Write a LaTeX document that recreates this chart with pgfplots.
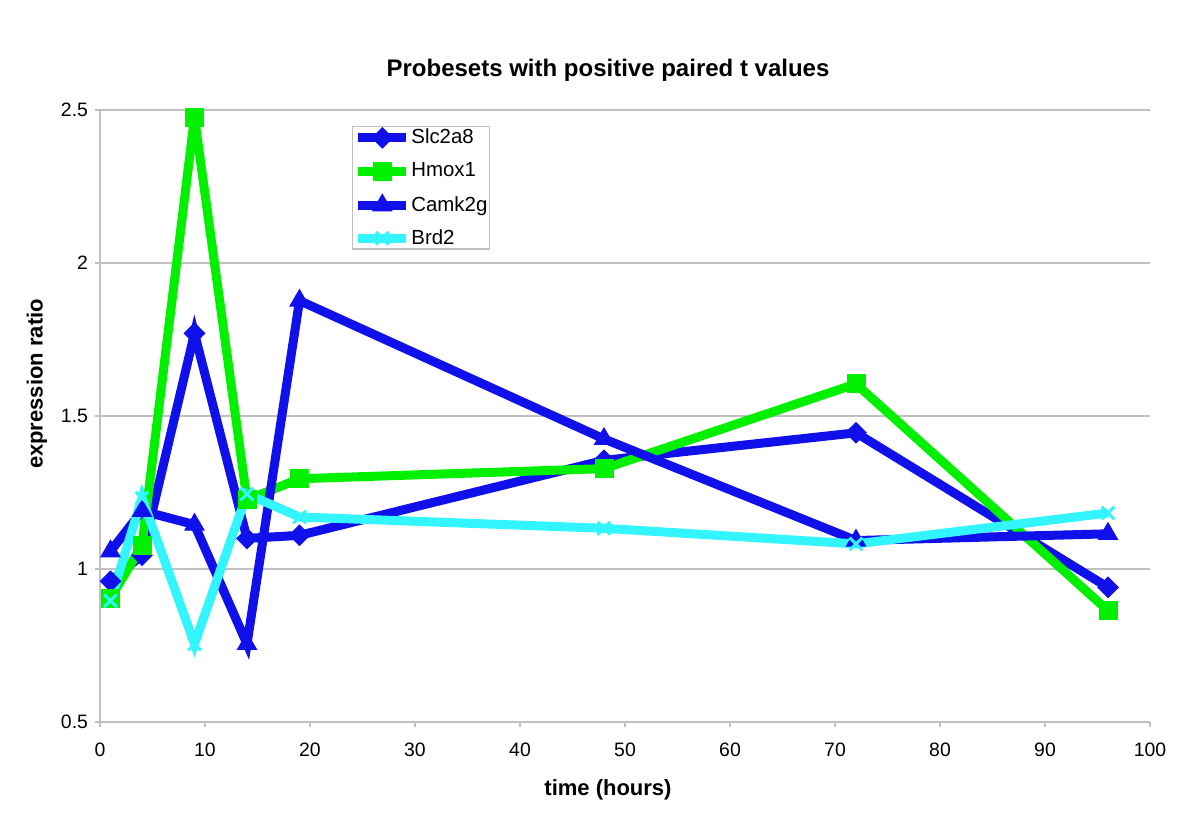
\documentclass[border=0pt]{standalone}
\usepackage{fontspec}
\setmainfont{Liberation Sans}
\usepackage{pgfplots}
\pgfplotsset{compat=1.18}

\definecolor{serblue}{RGB}{16,16,235}
\definecolor{sergreen}{RGB}{0,240,0}
\definecolor{sercyan}{RGB}{51,245,255}
\definecolor{axgray}{RGB}{192,192,192}

\begin{document}
\begin{tikzpicture}
\path[use as bounding box] (-50bp,-51bp) rectangle (550bp,361bp);
\begin{axis}[
  at={(0,0)}, anchor=south west,
  scale only axis, width=525bp, height=306bp,
  xmin=0, xmax=100, ymin=0.5, ymax=2.5,
  xtick={0,10,...,100}, ytick={0.5,1,1.5,2,2.5},
  axis x line*=bottom, axis y line*=left,
  axis line style={-, axgray, line width=0.6pt},
  ymajorgrids, grid style={axgray, line width=0.6pt},
  tick align=outside, major tick length=2.5bp,
  tick style={axgray, line width=0.6pt},
  ticklabel style={font=\fontsize{9.7bp}{11bp}\selectfont},
  xticklabel style={yshift=-4.5bp},
  /pgf/number format/assume math mode=true,
  every axis plot/.append style={line width=4.5bp, line join=miter},
  legend style={at={(rel axis cs:0.24,0.974)}, anchor=north west,
    draw=axgray, line width=0.6pt, inner sep=0.6bp, row sep=7bp,
    nodes={inner sep=0.3bp},
    font=\fontsize{10.2bp}{12bp}\selectfont},
  legend cell align=left,
  legend image code/.code={\draw[mark repeat=2,mark phase=2] plot coordinates {(-1bp,0bp)(11bp,0bp)(23bp,0bp)};},
]
\addplot[serblue, mark=square*, mark size=3.6bp, mark options={rotate=45, line width=0.5pt, fill=serblue}]
  coordinates {(1,0.96) (4,1.045) (9,1.77) (14,1.10) (19,1.11) (48,1.355) (72,1.445) (96,0.94)};
\addlegendentry{Slc2a8}
\addplot[sergreen, mark=square*, mark size=4.5bp, mark options={line width=0.5pt, fill=sergreen}]
  coordinates {(1,0.905) (4,1.077) (9,2.476) (14,1.226) (19,1.295) (48,1.328) (72,1.605) (96,0.864)};
\addlegendentry{Hmox1}
\addplot[serblue, mark=triangle*, mark size=5.5bp, mark options={line width=0.5pt, fill=serblue}]
  coordinates {(1,1.058) (4,1.19) (9,1.145) (14,0.755) (19,1.877) (48,1.425) (72,1.093) (96,1.115)};
\addlegendentry{Camk2g}
\addplot[sercyan, mark=x, mark size=4.5bp, mark options={line width=1.5bp}]
  coordinates {(1,0.896) (4,1.232) (9,0.755) (14,1.245) (19,1.17) (48,1.133) (72,1.082) (96,1.183)};
\addlegendentry{Brd2}
\end{axis}
\node[font=\bfseries\fontsize{12bp}{14bp}\selectfont] at (254bp,326bp) {Probesets with positive paired t values};
\node[font=\bfseries\fontsize{11bp}{13bp}\selectfont] at (254bp,-34bp) {time (hours)};
\node[font=\bfseries\fontsize{11bp}{13bp}\selectfont, rotate=90] at (-31.5bp,169bp) {expression ratio};
\end{tikzpicture}
\end{document}
